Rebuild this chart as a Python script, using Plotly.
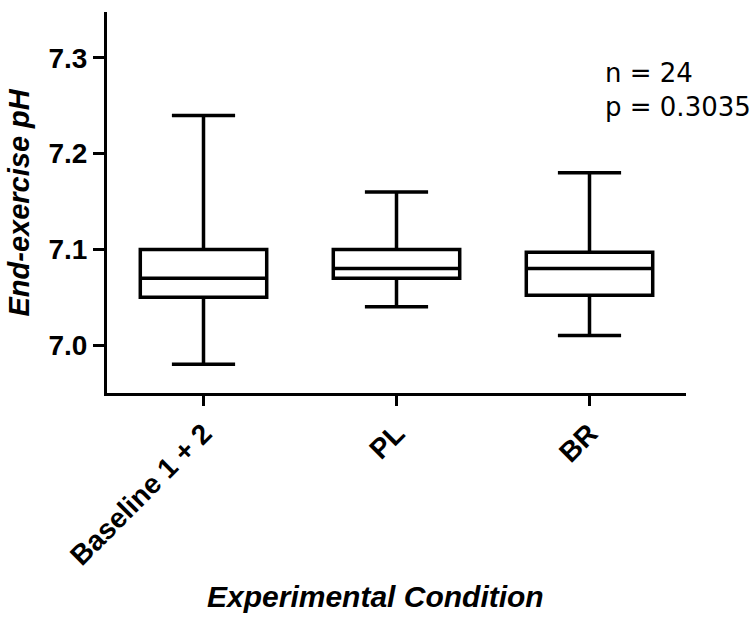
import plotly.graph_objects as go

# Box summary statistics per experimental condition
conditions = ["Baseline 1 + 2", "PL", "BR"]
lower_whisker = [6.98, 7.04, 7.01]
q1_values = [7.05, 7.07, 7.052]
median_values = [7.07, 7.08, 7.08]
q3_values = [7.10, 7.10, 7.097]
upper_whisker = [7.24, 7.16, 7.18]

y_ticks = [7.0, 7.1, 7.2, 7.3]
stats_text = "n = 24<br>p = 0.3035"

FONT = "Liberation Sans, Arial, sans-serif"

fig = go.Figure()
fig.add_trace(go.Box(
    x=conditions,
    q1=q1_values,
    median=median_values,
    q3=q3_values,
    lowerfence=lower_whisker,
    upperfence=upper_whisker,
    width=0.655,
    whiskerwidth=0.5,
    fillcolor="white",
    line=dict(color="black", width=3.5),
    boxpoints=False,
    showlegend=False,
))

fig.update_layout(
    width=756,
    height=619,
    margin=dict(l=107, r=70, t=12, b=226),
    paper_bgcolor="white",
    plot_bgcolor="white",
    font=dict(family=FONT, color="black"),
    xaxis=dict(
        type="category",
        range=[-0.5, 2.5],
        showline=True,
        linecolor="black",
        linewidth=3,
        ticks="outside",
        ticklen=10,
        tickwidth=3,
        tickcolor="black",
        tickangle=-45,
        tickfont=dict(family=FONT, size=28, weight="bold", color="black"),
        showgrid=False,
        zeroline=False,
    ),
    yaxis=dict(
        range=[6.95, 7.348],
        tickvals=y_ticks,
        tickformat=".1f",
        showline=True,
        linecolor="black",
        linewidth=3,
        ticks="outside",
        ticklen=11,
        tickwidth=3,
        tickcolor="black",
        tickfont=dict(family=FONT, size=28, weight="bold", color="black"),
        showgrid=False,
        zeroline=False,
    ),
    annotations=[
        dict(
            text="End-exercise pH",
            textangle=-90,
            xref="paper", yref="paper",
            x=-0.152, y=0.5,
            xanchor="center", yanchor="middle",
            showarrow=False,
            font=dict(family=FONT, size=29, weight="bold", style="italic", color="black"),
        ),
        dict(
            text="Experimental Condition",
            xref="paper", yref="paper",
            x=0.463, y=-0.535,
            xanchor="center", yanchor="middle",
            showarrow=False,
            font=dict(family=FONT, size=30, weight="bold", style="italic", color="black"),
        ),
        dict(
            text=stats_text,
            xref="paper", yref="paper",
            x=0.857, y=0.795,
            xanchor="left", yanchor="middle",
            align="left",
            showarrow=False,
            font=dict(family="DejaVu Sans", size=26, color="black"),
        ),
    ],
)

fig.write_html("out.html")
